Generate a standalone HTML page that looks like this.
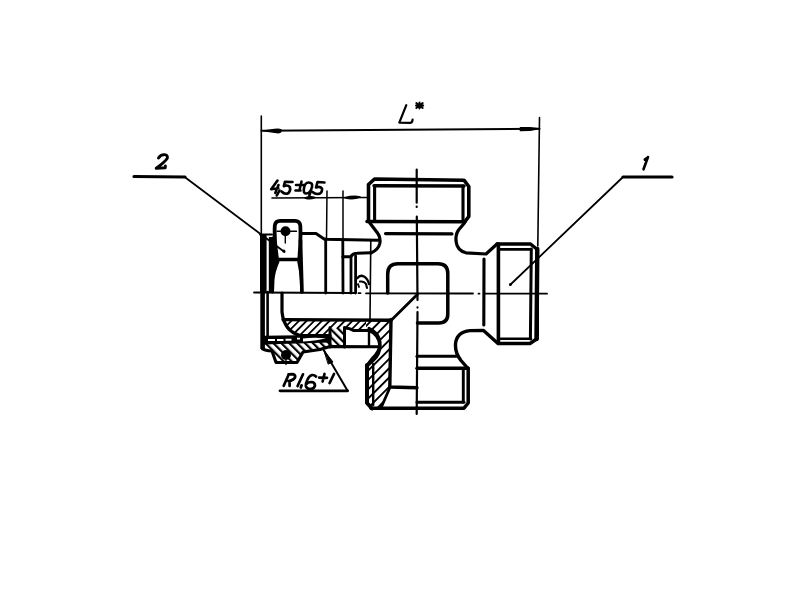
<!DOCTYPE html>
<html><head><meta charset="utf-8">
<style>
html,body{margin:0;padding:0;background:#fff;}
svg{display:block;}
</style></head>
<body>
<svg width="800" height="600" viewBox="0 0 800 600">
<defs>
<pattern id="hs" patternUnits="userSpaceOnUse" width="5.4" height="10" patternTransform="rotate(45)">
<rect width="5.4" height="10" fill="#fff"/>
<rect x="0" y="0" width="1.8" height="10" fill="#000"/>
</pattern>
<pattern id="hw" patternUnits="userSpaceOnUse" width="6.6" height="10" patternTransform="rotate(45)">
<rect width="6.6" height="10" fill="#fff"/>
<rect x="0" y="0" width="1.9" height="10" fill="#000"/>
</pattern>
<pattern id="hb" patternUnits="userSpaceOnUse" width="5.6" height="10" patternTransform="rotate(-45)">
<rect width="5.6" height="10" fill="#fff"/>
<rect x="0" y="0" width="2.2" height="10" fill="#000"/>
</pattern>
</defs>
<g fill="none" stroke="#000" stroke-linecap="round" stroke-linejoin="round">
<!-- hatch fills -->
<path d="M282,319 L368,319.5 L368,330.5 L353,330.5 Q350,328 344.5,328 L330,328 L330,335.5 L300,335.5 Q284,331 282,319 Z" fill="url(#hs)" stroke="none"/>
<path d="M366,319.5 L391,320 L389.8,387 L381,408 L371,408 L366.5,403.5 L366.5,366 L373.5,360 Q380.3,354 379.8,345 Q378.5,334 369,330.5 L366,330.5 Z" fill="url(#hw)" stroke="none"/>
<path d="M330,328 L344.5,328 L344.5,346.5 L330,346.5 Z" fill="url(#hb)" stroke="none"/>
<path d="M263,343 L330,341 L330,346.5 L320,349.5 L303,352 L297,362.5 L276,362.5 L272,351 L263,349.5 Z" fill="url(#hb)" stroke="none"/>

<!-- ===== L* dimension ===== -->
<path d="M261.3,116 L261.3,236" stroke-width="1.6"/>
<path d="M539.5,117.5 L537.8,246" stroke-width="1.6"/>
<path d="M261.5,130.8 L539.5,128.8" stroke-width="2"/>
<path d="M264,130.8 L271,129.8 Q279,128.3 281.3,130 Q281.3,132.6 278.5,132.8 Q271,132 264,130.8 Z" fill="#000" stroke-width="1.2"/>
<path d="M538,128.8 L530,127.8 L520.5,127.8 Q519.5,129 520.5,130.5 L530,130.2 Z" fill="#000" stroke-width="1.6"/>
<path d="M406.3,105.2 L399.3,122.6 L410.5,122.8 Q412.3,122.5 412.6,119.6" stroke-width="2.2"/>
<path d="M416.3,103 L422.7,108 M422.7,103 L416.3,108 M416,105.5 L423.2,105.5 M419.5,102.5 L419.5,108.5" stroke-width="2"/><circle cx="419.5" cy="105.5" r="1.8" fill="#000" stroke="none"/>

<!-- ===== leader 2 ===== -->
<path d="M134,176.5 L185,177" stroke-width="3.2"/>
<path d="M185,177.3 L284.5,252" stroke-width="1.8"/>
<circle cx="283.8" cy="251" r="1.6" fill="#000" stroke="none"/>
<path d="M158.5,158 Q160.5,154.5 164.5,154.6 Q168,155 167.3,158.3 Q165,162 156.2,168.3 L165.2,167.8 L165.4,166" stroke-width="2.9"/>

<!-- ===== leader 1 ===== -->
<path d="M623,177 L672,177" stroke-width="3.2"/>
<path d="M623,177 L510,285" stroke-width="1.8"/>
<circle cx="510.5" cy="284.5" r="1.4" fill="#000" stroke="none"/>
<path d="M648,157 L643.5,169.3 M647.6,157.5 L644.8,159.6" stroke-width="2.6"/>

<!-- ===== 4,5±0,5 ===== -->
<path d="M272,198 L368,197.5" stroke-width="1.6"/>
<path d="M327,191 L326.5,240" stroke-width="1.5"/>
<path d="M343,191 L343,240" stroke-width="1.5"/>
<path d="M305,198 Q310,195.5 315,197.5 Q310,200 305,198 Z" fill="#000" stroke-width="1.4"/>
<path d="M345,197.8 Q353,195.5 360,197 Q353,200 345,197.8 Z" fill="#000" stroke-width="1.6"/>
<g stroke-width="2.6">
<path d="M277.5,180.5 L271.2,189.2 L278.3,188.2 M278.5,185 L275.3,193"/>
<path d="M279.5,190.5 L276.8,195.5"/>
<path d="M292.5,182 L285,181.7 L283.8,186.2 Q287.5,184.5 289.8,187 Q291,190.5 288.5,193 Q285,195 281.5,191.5"/>
<path d="M301.5,181.5 L299.5,190 M296,185 L303.5,185 M295.5,190.5 L300.5,190.5"/>
<path d="M308.5,182.5 Q313,182.5 312,187 Q310.5,193.5 306,193.5 Q303,193.5 304,188 Q305,182.5 308.5,182.5 Z"/>
<path d="M310.5,192 L309.3,195.5"/>
<path d="M324.5,182.5 L317.5,182 L316,187.5 Q320,186 322,188.5 Q322.5,192 320,193.5 Q316,195 312.5,192"/>
</g>

<!-- ===== center lines ===== -->
<path d="M254,292.5 L355,293 M358.5,293.2 L360.5,293.2 M366,293.3 L473,293.5 M478.5,293.7 L479.5,293.7 M485,293.7 L547,293.7" stroke-width="1.8"/>
<path d="M416.7,169.5 L416.7,202.7 M416.7,206.5 L416.7,206.9 M416.8,216.7 L417.5,300 M417.5,307.3 L417.5,307.6 M417.5,312 L416.7,414" stroke-width="2.2"/>
<path d="M417.5,294.3 L391,320.5" stroke-width="2.8"/>

<!-- ===== top nut ===== -->
<path d="M368.5,221 L368.5,184.5 L374.5,179 L464,180.2 L468.8,186.5 L468.8,216.5 L465,221.5" stroke-width="3.6"/>
<path d="M374,185.8 L464,186" stroke-width="3.4"/>
<path d="M374.6,186 L374.6,221 M463,186 L463,221" stroke-width="3.1"/>
<path d="M367,221.5 L465,221.8" stroke-width="3.6"/>
<path d="M385.5,233.6 L452,233.9" stroke-width="3.1"/>
<path d="M369.5,222.5 L377.5,233 Q380.8,237.5 379.8,243.5 Q378.5,249.5 371,253" stroke-width="3.2"/>
<path d="M464.5,223 L458.5,230 Q455.5,234.5 456,241 Q457,250.5 466,252.8 L486,254 L497,244" stroke-width="3.2"/>

<!-- ===== right nut ===== -->
<path d="M497,244 L530.5,244 L537.3,249.5 L537.3,338.5 L530,343.5 L498,343.5 L483.5,330.4 L470,330.6 Q456.5,332 455.5,344 Q455,353 461,360.5 L468,368.5" stroke-width="3.4"/>
<path d="M498.4,244 L498.4,343.5" stroke-width="3.6"/>
<path d="M531.3,249 L530.4,339" stroke-width="3"/>
<path d="M537.3,249 L536.5,339" stroke-width="4.4"/>
<path d="M499,249.4 L531,249.4" stroke-width="2.8"/>
<path d="M499,338.8 L531,338.8" stroke-width="2.5"/>
<path d="M484,259 L483.8,325" stroke-width="3.1"/>

<!-- ===== center hole ===== -->
<path d="M387.7,293 L387.7,274 Q387.7,263.8 398,263.8 L438,263.8 Q447.8,263.8 447.8,273.5 L447.8,314 Q447.8,323 439,323 L417.5,323" stroke-width="3.5"/>

<!-- ===== bottom nut ===== -->
<path d="M371,408.2 L464,408.2 L468.2,403 L468.2,368.3" stroke-width="3.5"/>
<path d="M367,365 L367,403 L372,408.5" stroke-width="4"/>
<path d="M366.5,366 L372,359 Q381,350 380,342 Q378,332 369,328.5" stroke-width="3.2"/>
<path d="M417,356.3 L456,356.3" stroke-width="3.1"/>
<path d="M417,368.3 L468,368.3" stroke-width="3.4"/>
<path d="M463.3,368.5 L463.3,402" stroke-width="2.9"/>
<path d="M417,402.3 L464,402.3" stroke-width="2.9"/>

<!-- ===== left assembly (upper half elevation) ===== -->
<path d="M263.3,234.5 L263.3,293" stroke-width="6.6" stroke-linecap="butt"/>
<path d="M268.8,237 L272.5,237 L274.5,226 Q273.5,242 276.8,258.5 L277.8,261 Q273.5,272 273,280 L273,292.5 L268.8,292.5 Z" fill="#000" stroke="none"/>
<path d="M260,234.5 L272,234.5" stroke-width="2"/>
<path d="M262.6,292 L262.6,349" stroke-width="4.6" stroke-linecap="butt"/>
<path d="M267.6,292 L267.6,337" stroke-width="2.6"/>
<path d="M277,258.5 Q274,240 274.8,225.5 Q275.5,220.8 280,220.8 L295,220.8 Q299.8,221 300.3,225.5 Q301,240 299.3,258.5" stroke-width="3.8"/>
<path d="M300.5,240 L302,292" stroke-width="3.6"/>
<path d="M276,259.5 L300,259.5" stroke-width="3.6"/>
<path d="M278,261.5 Q273.5,272 273,280 L272.5,292" stroke-width="3"/>
<path d="M298.5,261.5 Q300.5,270 301,280 L301.5,292" stroke-width="2.6"/>
<circle cx="285.5" cy="231.2" r="5" fill="#000" stroke="none"/>
<path d="M277,231.3 L296.5,231.3 M285.3,232 L285.3,243" stroke-width="1.4"/>
<path d="M301,233.6 L316,233.6 L324.5,239.3 L378,240.3" stroke-width="3"/>
<path d="M325.7,239 L325.7,293" stroke-width="2.8"/>
<path d="M342.8,240 L343,293" stroke-width="2.8"/>
<path d="M342.8,256.8 L350.5,256.8 Q353,253.3 357,253.3 L371,252.8" stroke-width="3"/>
<path d="M351,257 L351,293" stroke-width="2.8"/>
<path d="M355.6,256 L355.6,293" stroke-width="2.8"/>
<path d="M370.8,240 L370,320" stroke-width="1.6"/>
<path d="M357.5,278 Q360,274.5 364,276.5 Q368,279 369,284" stroke-width="2.3"/>
<path d="M360,281.5 Q364,281 366,284 L367,288" stroke-width="2.1"/>
<path d="M358,284 L359,287" stroke-width="1.8"/>

<!-- ===== sections (hatched) ===== -->

<path d="M282,293 L282,312 Q284,331 300,335.5 L330,335.5" stroke-width="3.2"/>
<path d="M283,319.6 L391,320.3" stroke-width="3.4"/>
<path d="M391,319.5 L389.8,387 L417,387.8" stroke-width="3.4"/>
<path d="M389.8,387.8 L381,408" stroke-width="2.8"/>
<path d="M369,330.5 Q378.5,334 379.8,345 Q380.3,354 373.5,360 L367,366" stroke-width="3.2"/>
<path d="M344.5,328 Q350,328 353,330.5 L369,330.5" stroke-width="2.8"/>
<path d="M369,330.5 L369,346.6" stroke-width="2.4"/>
<path d="M373.2,364 L373.2,405" stroke-width="2.4"/>
<path d="M264,335.8 L330,334.8 L330,342.5 L264,344.5 Z" fill="#000" stroke="none"/>
<path d="M268,339 L275,339 L275,341 L268,341 Z M277,339 L283.5,338.9 L283.5,340.9 L277,341 Z M285.5,338.8 L291.5,338.7 L291.5,340.7 L285.5,340.8 Z M297,337.8 L300,337.7 L300,339.5 L297,339.6 Z M303,338.6 Q312,337.2 326,338.2 Q318,340.3 303,341.6 Z" fill="#fff" stroke="none"/>
<path d="M262.6,349 Q265,350.5 272,351 L276,362.5 L297,362.5 L303,352 L320,349.5 L330,346.5 L378,346.8" stroke-width="3.1"/>
<path d="M330,327.5 L330,347 M344.5,327.5 L344.5,347" stroke-width="3"/>
<circle cx="286" cy="355" r="5" fill="#000" stroke="none"/>
<path d="M286,360 L286,364.5" stroke-width="1.4"/>

<!-- ===== R1,6+1 ===== -->
<path d="M280,390.8 L347.6,390.8" stroke-width="2.8"/>
<path d="M347.6,390.8 L324,350.5" stroke-width="2"/>
<path d="M324,350.5 L333,362 L328.5,364 Z" fill="#000" stroke-width="1"/>
<g stroke-width="2.7">
<path d="M288.5,375 L283.7,385.8 M288.5,374.3 L293.3,374.2 Q295.8,375.2 295,377.5 Q293.5,380.3 288.5,381 M289.6,381 L289.6,386"/>
<path d="M303,374.3 L297.6,386"/>
<path d="M301.6,385.3 L300.8,387.5"/>
<path d="M316,376.5 Q314.5,374.8 312,375 Q309,376 307.5,379.5 Q305.5,383.5 305.8,386 Q306.5,389 310.5,389.2 Q314.5,388.5 315,385.5 Q315,382 311,382 Q307.5,382.2 306,384.5"/>
<path d="M324.5,374 L322.6,381.5 M319.2,377.6 L327,377.8"/>
<path d="M334,374 L329.6,383"/>
</g>

</g>
</svg>
</body></html>
